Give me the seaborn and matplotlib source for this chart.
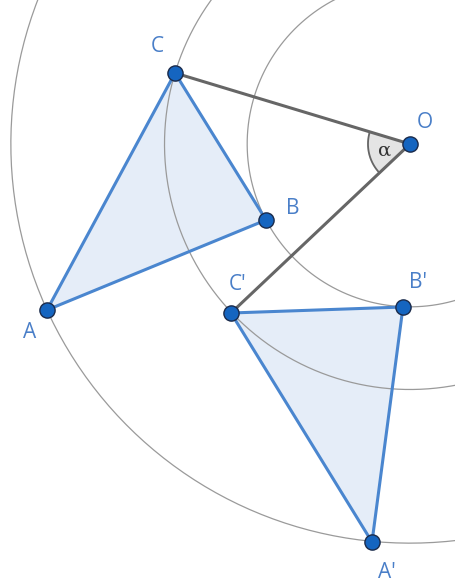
import numpy as np
import matplotlib
matplotlib.use("Agg")
import matplotlib.pyplot as plt
import seaborn as sns

# point positions (picture pixels, y downwards)
names = ['A', 'B', 'C', "A'", "B'", "C'", 'O']
xs = [47, 266, 175, 372, 403, 231, 410]
ys = [310, 220, 73, 542, 307, 313, 144]
# label positions
lab_x = [30, 293, 157, 387, 418, 238, 425]
lab_y = [333, 209, 47, 573, 283, 285, 122]
angle_label = 'α'

sns.set_theme(style="white")
plt.rcParams['font.family'] = ['Open Sans', 'DejaVu Sans']

pts = dict(zip(names, zip(xs, ys)))
ox, oy = pts['O']

fig = plt.figure(figsize=(4.55, 5.85), dpi=100)
ax = fig.add_axes([0, 0, 1, 1])
ax.set_xlim(0, 455)
ax.set_ylim(585, 0)
ax.set_aspect('equal')
ax.axis('off')

# triangle fills (under the circles)
blue = '#4a86cf'
tris = [['A', 'B', 'C'], ["A'", "B'", "C'"]]
for tri in tris:
    ax.fill([pts[n][0] for n in tri], [pts[n][1] for n in tri], color='#e5edf8', zorder=0.5)

# circles around O through A, B, C
t = np.linspace(0, 2 * np.pi, 400)
for n in ['A', 'B', 'C']:
    r = np.hypot(pts[n][0] - ox, pts[n][1] - oy)
    ax.plot(ox + r * np.cos(t), oy + r * np.sin(t), color='#9a9a9a', lw=0.9, zorder=1)

for tri in tris:
    px = [pts[n][0] for n in tri]
    py = [pts[n][1] for n in tri]
    ax.plot(px + px[:1], py + py[:1], color=blue, lw=2.2, zorder=3)

# angle sector at O
a1 = np.arctan2(pts["C'"][1] - oy, pts["C'"][0] - ox)
a2 = np.arctan2(pts['C'][1] - oy, pts['C'][0] - ox) % (2 * np.pi)
ta = np.linspace(a1, a2, 50)
rs = 42
ax.fill(np.r_[ox, ox + rs * np.cos(ta)], np.r_[oy, oy + rs * np.sin(ta)], color='#e4e4e4', zorder=3)
ax.plot(ox + rs * np.cos(ta), oy + rs * np.sin(ta), color='#666666', lw=1.3, zorder=4)
ax.text(385, 151, angle_label, fontsize=14, color='#333333', ha='center', va='center', zorder=5,
        family=['DejaVu Serif'])

# segments O-C and O-C'
for n in ['C', "C'"]:
    ax.plot([ox, pts[n][0]], [oy, pts[n][1]], color='#666666', lw=2.2, zorder=4, solid_capstyle='round')

sns.scatterplot(x=xs, y=ys, s=120, color='#1565c0', edgecolor='#1a2a4a', linewidth=1.0, zorder=6, ax=ax)

for n, lx, ly in zip(names, lab_x, lab_y):
    ax.text(lx, ly, n, fontsize=15, color='#4a7fc8', ha='center', va='center', zorder=7)

fig.savefig('out.png', dpi=100, facecolor='white')
